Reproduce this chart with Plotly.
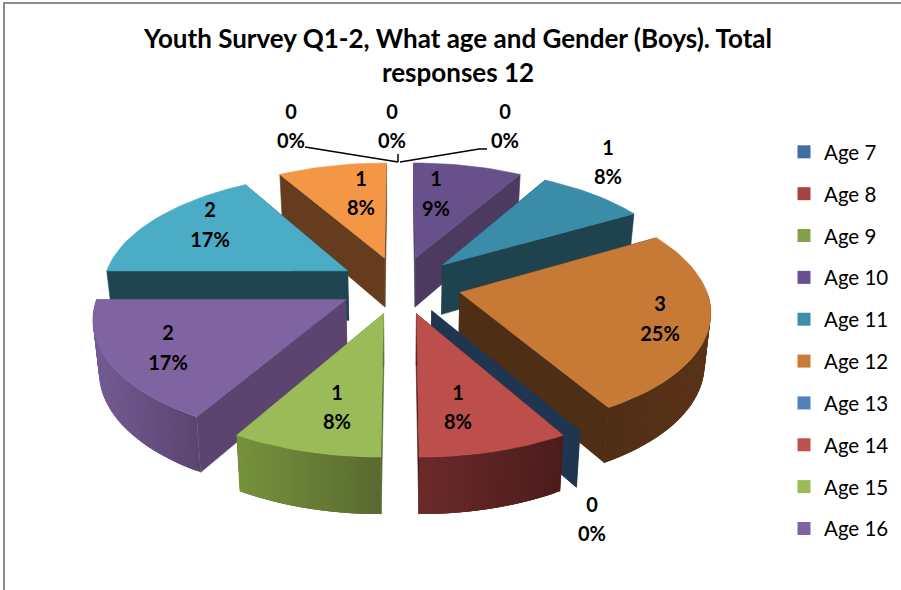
import math
import plotly.graph_objects as go

# ---- data ----
AGES = ["Age 7", "Age 8", "Age 9", "Age 10", "Age 11", "Age 12", "Age 13",
        "Age 14", "Age 15", "Age 16", "Age 17", "Age 18"]
COUNTS = [0, 0, 0, 1, 1, 3, 0, 1, 1, 2, 2, 1]
PERCENT_LABELS = ["0%", "0%", "0%", "9%", "8%", "25%", "0%", "8%", "8%", "17%", "17%", "8%"]
TITLE = "Youth Survey Q1-2, What age and Gender (Boys). Total<br>responses 12"
LEGEND_COUNT = 10

# ---- styles ----
TOP = ["#4f81bd", "#c0504d", "#9bbb59", "#68508a", "#3b8ca8", "#c67a36",
       "#1f3550", "#bc4e4c", "#9bbb59", "#8064a2", "#4bacc6", "#f39645"]
SIDE = ["#24405f", "#4c1c1c", "#4b5c2b", "#4c3a61", "#1f434e", "#4f2e16",
        "#1f3550", "#4c1c1c", "#586a30", "#5b4570", "#1f4650", "#653c1d"]
RIM_LEFT = ["#24405f", "#6b2a2a", "#76923c", "#4c3a61", "#1f434e", "#4f2e16",
            "#1f3550", "#6b2a2a", "#76923c", "#735a93", "#1f4650", "#653c1d"]
RIM_RIGHT = ["#24405f", "#4c1c1c", "#586a30", "#4c3a61", "#1f434e", "#5a3318",
             "#1f3550", "#4c1c1c", "#586a30", "#5b4570", "#1f4650", "#653c1d"]
LEGEND_COLORS = ["#3f6ea5", "#a54340", "#85a04a", "#6b4f8e", "#3d8fa8", "#c97c35",
                 "#4f81bd", "#c0504d", "#9bbb59", "#8064a2"]
PAINT_ORDER = [3, 11, 4, 10, 5, 9, 6, 7, 8]
# label anchor for each age: centre x, first line y, second line y
LABEL_POS = [(291, 114, 143), (392, 114, 143), (505, 114, 143), (436, 181, 211),
             (608, 150, 179), (660, 306, 336), (592, 507, 536), (458, 395, 424),
             (337, 395, 424), (168, 335, 365), (210, 212, 242), (361, 181, 210)]
FONT = "Lato, Carlito, Calibri, sans-serif"

# ---- projection of the tilted pie onto the page ----
CX, CY = 400.0, 285.0
AX, BY, PERSP = 245.0, 114.9, 0.137
EXPLODE = 0.251
DEPTH, DEPTH_P, SHRINK = 50.1, 0.098, 0.98


def project(u, v, bottom=False):
    w = 1 - PERSP * v
    x = CX + AX * u / w
    y = CY + BY * v / w
    if bottom:
        x = CX + (x - CX) * SHRINK
        y += DEPTH / (1 - DEPTH_P * v)
    return x, y


def rim_point(a0, a1, theta, bottom=False):
    mid = math.radians((a0 + a1) / 2)
    t = math.radians(theta)
    return project(EXPLODE * math.sin(mid) + math.sin(t),
                   -EXPLODE * math.cos(mid) - math.cos(t), bottom)


def apex(a0, a1, bottom=False):
    mid = math.radians((a0 + a1) / 2)
    return project(EXPLODE * math.sin(mid), -EXPLODE * math.cos(mid), bottom)


def mix(c1, c2, f):
    a = [int(c1[i:i + 2], 16) for i in (1, 3, 5)]
    b = [int(c2[i:i + 2], 16) for i in (1, 3, 5)]
    return "#%02x%02x%02x" % tuple(round(p + (q - p) * f) for p, q in zip(a, b))


fig = go.Figure()


def poly(points, color, width=0.6):
    xs = [p[0] for p in points] + [points[0][0]]
    ys = [p[1] for p in points] + [points[0][1]]
    fig.add_trace(go.Scatter(x=xs, y=ys, mode="lines", fill="toself", fillcolor=color,
                             line=dict(color=color, width=width), hoverinfo="skip",
                             showlegend=False))


total = sum(COUNTS)
starts = []
acc = 0
for c in COUNTS:
    starts.append(acc / total * 360)
    acc += c

# the zero-size Age 13 still shows a thin wall in the reference, so it is in the order
for i in PAINT_ORDER:
    a0 = starts[i]
    a1 = a0 + COUNTS[i] / total * 360
    for edge in (a0, a1):
        poly([apex(a0, a1), rim_point(a0, a1, edge),
              rim_point(a0, a1, edge, True), apex(a0, a1, True)], SIDE[i])
    f0, f1 = max(a0, 90), min(a1, 270)  # only the front of the rim faces the viewer
    if COUNTS[i] and f1 > f0:
        steps = max(10, int(f1 - f0))
        xa, xb = rim_point(a0, a1, f0)[0], rim_point(a0, a1, f1)[0]
        lo, hi = min(xa, xb), max(xa, xb)
        for s in range(steps):
            t0 = f0 + (f1 - f0) * s / steps
            t1 = min(f1, f0 + (f1 - f0) * (s + 3) / steps)
            x_mid = rim_point(a0, a1, f0 + (f1 - f0) * (s + 0.5) / steps)[0]
            col = mix(RIM_LEFT[i], RIM_RIGHT[i], min(1, max(0, (x_mid - lo) / (hi - lo))))
            arc = [t0 + (t1 - t0) * q / 4 for q in range(5)]
            poly([rim_point(a0, a1, t) for t in arc] +
                 [rim_point(a0, a1, t, True) for t in reversed(arc)], col, width=0)
    if COUNTS[i]:
        steps = int((a1 - a0) / 2)
        pts = [apex(a0, a1)] + [rim_point(a0, a1, a0 + (a1 - a0) * s / steps)
                                for s in range(steps + 1)]
        poly(pts, TOP[i])

# leader lines of the three empty slices at the top
for lx, ly in (([305, 398], [147, 162]), ([398, 398], [154, 162]),
               ([400, 479, 487], [162, 149, 149])):
    fig.add_trace(go.Scatter(x=lx, y=ly, mode="lines", line=dict(color="#000000", width=1.5),
                             hoverinfo="skip", showlegend=False))

# data labels: count on one line, percentage on the next
fig.add_trace(go.Scatter(x=[p[0] for p in LABEL_POS], y=[p[1] for p in LABEL_POS],
                         mode="text", text=[str(c) for c in COUNTS],
                         textfont=dict(family=FONT, size=20, color="#000000", weight="bold"),
                         hoverinfo="skip", showlegend=False))
fig.add_trace(go.Scatter(x=[p[0] for p in LABEL_POS], y=[p[2] for p in LABEL_POS],
                         mode="text", text=PERCENT_LABELS,
                         textfont=dict(family=FONT, size=20, color="#000000", weight="bold"),
                         hoverinfo="skip", showlegend=False))

# legend entries
for name, color in zip(AGES[:LEGEND_COUNT], LEGEND_COLORS):
    fig.add_trace(go.Scatter(x=[None], y=[None], mode="markers", name=name, legendgroup=name,
                             marker=dict(symbol="square", size=13, color=color)))

fig.update_layout(
    width=901, height=590, margin=dict(l=0, r=0, t=0, b=0),
    paper_bgcolor="white", plot_bgcolor="white",
    xaxis=dict(range=[0, 901], visible=False, fixedrange=True),
    yaxis=dict(range=[590, 0], visible=False, fixedrange=True),
    title=dict(text=TITLE, x=458 / 901, xanchor="center", y=1 - 48 / 590, yanchor="top",
               font=dict(family=FONT, size=26, color="#000000", weight="bold")),
    legend=dict(x=796 / 901, xanchor="left", y=1 - 132 / 590, yanchor="top",
                font=dict(family=FONT, size=20.5, color="#000000"),
                tracegroupgap=12.2, indentation=-12, itemclick=False, itemdoubleclick=False,
                borderwidth=0, bgcolor="rgba(0,0,0,0)"),
    shapes=[dict(type="line", x0=4, x1=4, y0=3, y1=590, line=dict(color="#8c8c8c", width=2)),
            dict(type="line", x0=3, x1=901, y0=3, y1=3, line=dict(color="#8c8c8c", width=2))],
)

fig.write_html("out.html", config=dict(displayModeBar=False),
               post_script="document.body.style.margin='0';document.body.style.overflow='hidden';")
